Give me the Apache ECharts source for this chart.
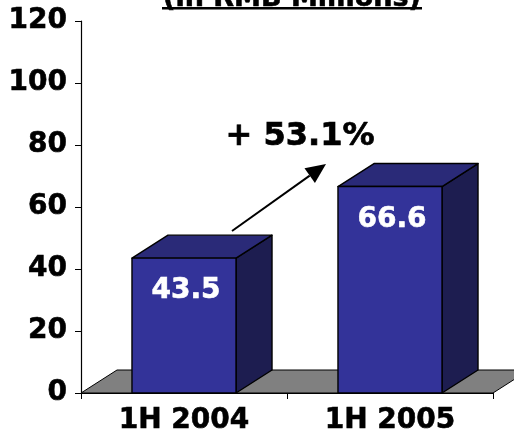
<!DOCTYPE html>
<html>
<head>
<meta charset="utf-8">
<script src="https://cdn.jsdelivr.net/npm/echarts@6/dist/echarts.min.js"></script>
<style>html,body{margin:0;padding:0;background:#fff}#c{width:514px;height:443px}</style>
</head>
<body>
<div id="c"></div>
<script>
const categories = ['1H 2004', '1H 2005'];
const values = [43.5, 66.6];
const valueLabels = ['43.5', '66.6'];
const yTicks = [0, 20, 40, 60, 80, 100, 120];
const titleText = '(in RMB Millions)';
const growthText = '+ 53.1%';

const FONT = '"DejaVu Sans", "Liberation Sans", Arial, sans-serif';
const DX = 36, DY = -23;
const chart = echarts.init(document.getElementById('c'));

function floorItem(params, api) {
  const cs = params.coordSys;
  const b = cs.y + cs.height;
  return {
    type: 'polygon',
    shape: { points: [[cs.x, b], [cs.x + cs.width, b], [cs.x + cs.width + DX, b + DY], [cs.x + DX, b + DY]] },
    style: { fill: '#808080', stroke: '#000', lineWidth: 1 }
  };
}

function barItem(params, api) {
  const idx = api.value(0);
  const top = api.coord([idx, api.value(1)]);
  const base = api.coord([idx, 0]);
  const band = api.size([1, 0])[0];
  const w = band * 0.505;
  const x0 = top[0] - w / 2, x1 = top[0] + w / 2;
  const yt = top[1], yb = base[1];
  const stroke = { stroke: '#000', lineWidth: 1.4, lineJoin: 'round' };
  return {
    type: 'group',
    children: [
      { type: 'polygon', shape: { points: [[x1, yb], [x1 + DX, yb + DY], [x1 + DX, yt + DY], [x1, yt]] },
        style: Object.assign({ fill: '#1d1d50' }, stroke) },
      { type: 'polygon', shape: { points: [[x0, yt], [x0 + DX, yt + DY], [x1 + DX, yt + DY], [x1, yt]] },
        style: Object.assign({ fill: '#2a2a78' }, stroke) },
      { type: 'rect', shape: { x: x0, y: yt, width: w, height: yb - yt },
        style: Object.assign({ fill: '#333399' }, stroke) },
      { type: 'text', x: top[0] + 2, y: yt + 33,
        style: { text: valueLabels[idx], fill: '#fff', font: 'bold 28px ' + FONT, align: 'center', verticalAlign: 'middle',
                 stroke: '#fff', lineWidth: 0.6 } }
    ]
  };
}

// arrow annotation
const aS = [232, 231], aT = [326, 164];
const dx = aT[0] - aS[0], dy = aT[1] - aS[1];
const L = Math.sqrt(dx * dx + dy * dy);
const ux = dx / L, uy = dy / L, px = -uy, py = ux;
const hl = 20, hw = 9;
const bc = [aT[0] - ux * hl, aT[1] - uy * hl];

const axisLabelStyle = { color: '#000', fontFamily: FONT, fontWeight: 'bold', fontSize: 28,
                         textBorderColor: '#000', textBorderWidth: 0.6 };

chart.setOption({
  animation: false,
  grid: { left: 81, right: 21, top: 21, bottom: 50 },
  xAxis: {
    type: 'category', data: categories, boundaryGap: true,
    axisLine: { lineStyle: { color: '#000', width: 1.2 } },
    axisTick: { show: true, length: 6, lineStyle: { color: '#000' } },
    axisLabel: Object.assign({ margin: 14 }, axisLabelStyle)
  },
  yAxis: {
    type: 'value', min: 0, max: 120, interval: 20,
    axisLine: { show: true, lineStyle: { color: '#000', width: 1.2 } },
    axisTick: { show: true, length: 6, lineStyle: { color: '#000' } },
    splitLine: { show: false },
    axisLabel: Object.assign({ margin: 14 }, axisLabelStyle)
  },
  graphic: [
    { type: 'text', x: 292, y: 12, style: { text: titleText, fill: '#000', font: 'bold 27px ' + FONT, align: 'center', verticalAlign: 'bottom', stroke: '#000', lineWidth: 0.6 } },
    { type: 'rect', shape: { x: 162, y: 7, width: 260, height: 2.5 }, style: { fill: '#000' } },
    { type: 'text', x: 300, y: 137, style: { text: growthText, fill: '#000', font: 'bold 32px ' + FONT, align: 'center', verticalAlign: 'middle', stroke: '#000', lineWidth: 0.7 } },
    { type: 'line', shape: { x1: aS[0], y1: aS[1], x2: bc[0], y2: bc[1] }, style: { stroke: '#000', lineWidth: 2 } },
    { type: 'polygon', shape: { points: [aT, [bc[0] + px * hw, bc[1] + py * hw], [bc[0] - px * hw, bc[1] - py * hw]] }, style: { fill: '#000' } }
  ],
  series: [
    { type: 'custom', renderItem: floorItem, data: [[0]], silent: true, z: 1 },
    { type: 'custom', renderItem: barItem, data: values.map((v, i) => [i, v]), z: 2 }
  ]
});
</script>
</body>
</html>
